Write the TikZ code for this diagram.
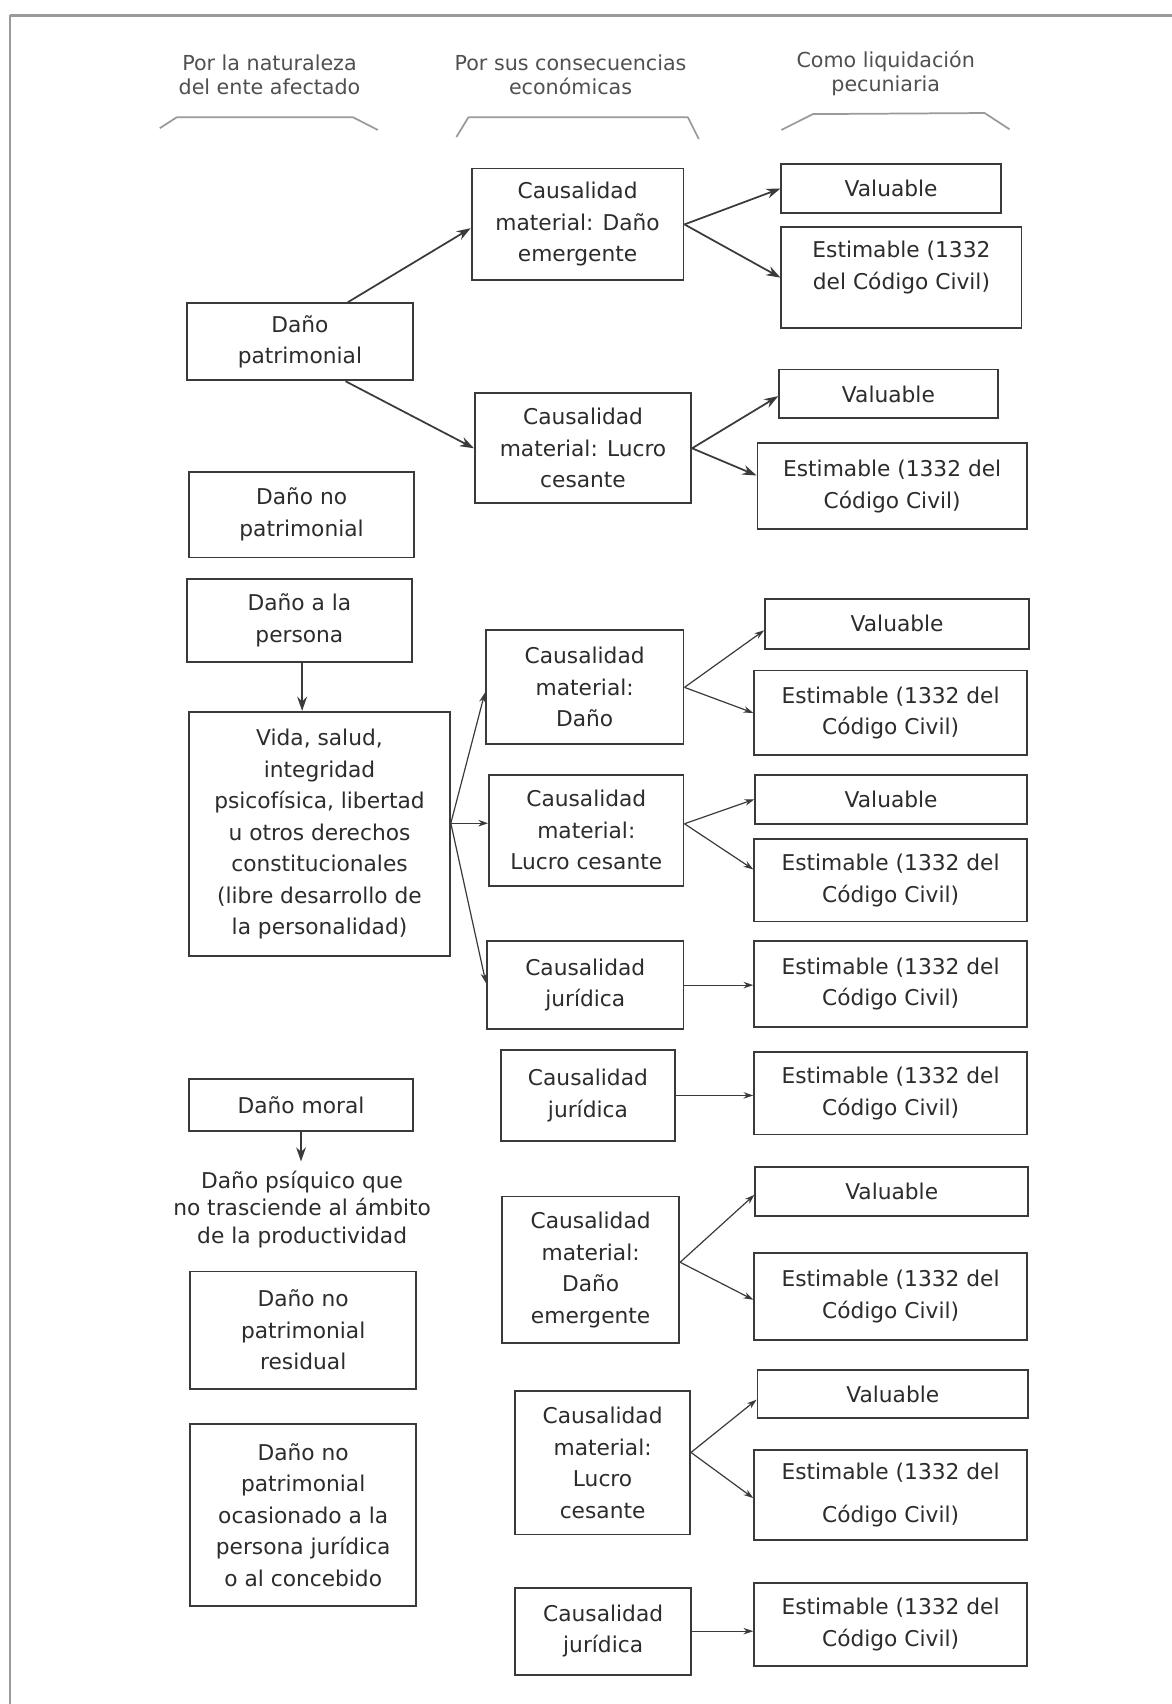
\documentclass[tikz,border=0pt]{standalone}
\usepackage{fontspec}
\setmainfont{DejaVu Sans}
\usetikzlibrary{arrows.meta,calc}
\definecolor{ln}{HTML}{3A3A3A}
\definecolor{tx}{HTML}{2C2C2C}
\definecolor{hd}{HTML}{505050}
\definecolor{fr}{HTML}{9A9A9A}
\begin{document}
\begin{tikzpicture}[x=1pt,y=-1pt,
 box/.style={draw=ln, line width=1.7pt, inner sep=0pt, align=center, text=tx, font={\fontsize{20}{29}\selectfont}},
 txt/.style={inner sep=0pt, align=center, text=tx, font={\fontsize{20}{29}\selectfont}},
 hdr/.style={inner sep=0pt, align=center, text=hd, font={\fontsize{19}{22}\selectfont}},
 arrA/.style={draw=ln, line width=1.6pt, -{Stealth[length=13pt,width=9pt]}},
 arrB/.style={draw=ln, line width=1.1pt, -{Stealth[length=9pt,width=6pt]}},
 brc/.style={draw=fr, line width=1.6pt, line join=round},
 frame/.style={draw=fr},
]
\useasboundingbox (0,0) rectangle (1078,1568);
\fill[white] (0,0) rectangle (1078,1568);
% page frame
\draw[frame, line width=2.6pt] (9,14) -- (1078,14);
\draw[frame, line width=1.6pt] (9,14) -- (9,1568);

% headers
\node[hdr] (h1) at (248,69) {Por la naturaleza\\del ente afectado};
\node[hdr] (h2) at (525,69) {Por sus consecuencias\\económicas};
\node[hdr] (h3) at (815,67.5) {Como liquidación\\pecuniaria};
\draw[brc] (147,118) -- (162.5,108) -- (325,108) -- (347.7,119.6);
\draw[brc] (420,126) -- (431,108) -- (633,108) -- (643,128);
\draw[brc] (719,119.6) -- (748,105) -- (906,104) -- (929,119);

% column 1
\node[box, minimum width=208, minimum height=71] (p1) at (276,314.5) {Daño\\patrimonial};
\node[box, minimum width=207, minimum height=79] (p2) at (277.5,473.5) {Daño no\\patrimonial};
\node[box, minimum width=207, minimum height=76] (p3) at (275.5,571) {Daño a la\\persona};
\node[box, minimum width=240, minimum height=225] (p4) at (294,767.5) {Vida, salud,\\integridad\\psicofísica, libertad\\u otros derechos\\constitucionales\\(libre desarrollo de\\la personalidad)};
\node[box, minimum width=206, minimum height=48] (p5) at (277,1017) {Daño moral};
\node[txt, font={\fontsize{20}{25}\selectfont}] (t6) at (278,1113) {Daño psíquico que\\no trasciende al ámbito\\de la productividad};
\node[box, minimum width=208, minimum height=108] (p7) at (279,1224) {Daño no\\patrimonial\\residual};
\node[box, minimum width=208, minimum height=168] (p8) at (279,1394) {Daño no\\patrimonial\\ocasionado a la\\persona jurídica\\o al concebido};

% column 2
\node[box, minimum width=195, minimum height=103] (c1) at (531.5,206.5) {Causalidad\\material: Daño\\emergente};
\node[box, minimum width=199, minimum height=101] (c2) at (536.5,412.5) {Causalidad\\material: Lucro\\cesante};
\node[box, minimum width=182, minimum height=105] (c3) at (538,632.5) {Causalidad\\material:\\Daño};
\node[box, minimum width=179, minimum height=102] (c4) at (539.5,764) {Causalidad\\material:\\Lucro cesante};
\node[box, minimum width=181, minimum height=81] (c5) at (538.5,906.5) {Causalidad\\jurídica};
\node[box, minimum width=160, minimum height=84] (c6) at (541,1008) {Causalidad\\jurídica};
\node[box, minimum width=163, minimum height=135] (c7) at (543.5,1168.5) {Causalidad\\material:\\Daño\\emergente};
\node[box, minimum width=161, minimum height=132] (c8) at (554.5,1346) {Causalidad\\material:\\Lucro\\cesante};
\node[box, minimum width=162, minimum height=80] (c9) at (555,1501) {Causalidad\\jurídica};

% column 3
\node[box, minimum width=202, minimum height=45] (v1) at (820,173.5) {Valuable};
\node[box, minimum width=221, minimum height=93] (e1) at (829.5,255.5) {};
\node[txt] (e1t) at (829.5,246) {Estimable (1332\\del Código Civil)};
\node[box, minimum width=201, minimum height=45] (v2) at (817.5,362.5) {Valuable};
\node[box, minimum width=248, minimum height=79] (e2) at (821,447.5) {Estimable (1332 del\\Código Civil)};
\node[box, minimum width=243, minimum height=46] (v3) at (825.5,574) {Valuable};
\node[box, minimum width=251, minimum height=78] (e3) at (819.5,656) {Estimable (1332 del\\Código Civil)};
\node[box, minimum width=250, minimum height=45] (v4) at (820,735.5) {Valuable};
\node[box, minimum width=251, minimum height=76] (e4) at (819.5,810) {Estimable (1332 del\\Código Civil)};
\node[box, minimum width=251, minimum height=79] (e5) at (819.5,905.5) {Estimable (1332 del\\Código Civil)};
\node[box, minimum width=251, minimum height=76] (e6) at (819.5,1006) {Estimable (1332 del\\Código Civil)};
\node[box, minimum width=251, minimum height=45] (v7) at (820.5,1096.5) {Valuable};
\node[box, minimum width=251, minimum height=80] (e7) at (819.5,1193) {Estimable (1332 del\\Código Civil)};
\node[box, minimum width=249, minimum height=44] (v8) at (821.5,1283) {Valuable};
\node[box, minimum width=251, minimum height=83] (e8) at (819.5,1375.5) {Estimable (1332 del\\[10pt]Código Civil)};
\node[box, minimum width=251, minimum height=76] (e9) at (819.5,1495) {Estimable (1332 del\\Código Civil)};

% connectors: top section
\draw[arrA] ($(p1.north)+(44,0)$) -- ($(c1.west)+(0,3.5)$);
\draw[arrA] ($(p1.south)+(42,0)$) -- (c2.west);
\draw[arrA] (c1.east) -- (v1.west);
\draw[arrA] (c1.east) -- (e1.west);
\draw[arrA] (c2.east) -- ($(v2.west)+(0,2)$);
\draw[arrA] (c2.east) -- ($(e2.west)+(0,-10)$);

% Daño a la persona
\draw[arrA] ($(p3.south)+(2.5,0)$) -- ($(p3.south |- p4.north)+(2.5,0)$);
\coordinate (p4o) at ($(p4.east)+(0,-10)$);
\draw[arrB] (p4o) -- ($(c3.west)+(0,5)$);
\draw[arrB] (p4o) -- (p4o -| c4.west);
\draw[arrB] (p4o) -- ($(c5.west)+(0,-2)$);
\draw[arrB] (c3.east) -- ($(v3.west)+(0,6)$);
\draw[arrB] (c3.east) -- (e3.west);
\coordinate (c4o) at ($(c4.east)+(0,-6)$);
\draw[arrB] (c4o) -- (v4.west);
\draw[arrB] (c4o) -- ($(e4.west)+(0,-10)$);
\draw[arrB] (c5.east) -- (c5.east -| e5.west);
\draw[arrB] (c6.east) -- (c6.east -| e6.west);

% Daño moral
\coordinate (t6top) at ($(t6.north)+(0,-9)$);
\draw[arrA] (p5.south) -- (p5.south |- t6top);
\coordinate (c7o) at ($(c7.east)+(0,-7)$);
\draw[arrB] (c7o) -- ($(v7.west)+(0,3)$);
\draw[arrB] (c7o) -- ($(e7.west)+(0,3)$);
\coordinate (c8o) at ($(c8.east)+(0,-9.5)$);
\draw[arrB] (c8o) -- ($(v8.west)+(0,5)$);
\draw[arrB] (c8o) -- ($(e8.west)+(0,3)$);
\draw[arrB] (c9.east) -- (c9.east -| e9.west);
\end{tikzpicture}
\end{document}
